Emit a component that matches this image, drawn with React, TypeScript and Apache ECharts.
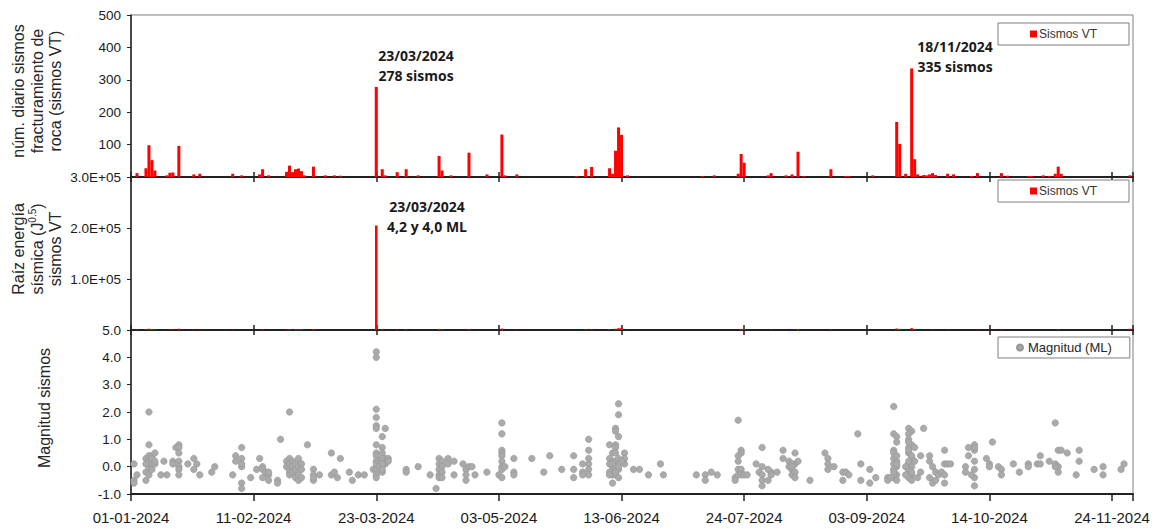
import React, { useEffect, useRef } from "react";
import * as echarts from "echarts";

// Day offsets counted from 01-01-2024
const START_UTC = Date.UTC(2024, 0, 1);
const X_MAX_DAY = 335;
const X_TICK_DAYS = 41;

// Panel 1: daily number of VT earthquakes [day, count]
const vtCounts: [number, number][] = [
  [2, 12], [5, 27], [6, 98], [7, 52], [8, 20], [12, 5], [13, 13], [14, 14], [16, 96],
  [21, 8], [23, 10], [34, 10], [37, 5], [43, 8], [44, 24], [46, 5], [52, 16], [53, 35],
  [54, 15], [55, 24], [56, 26], [57, 18], [58, 5], [61, 32], [65, 5], [68, 5], [70, 4],
  [82, 278], [84, 24], [85, 5], [89, 15], [92, 24], [96, 5], [103, 65], [104, 20], [107, 5],
  [113, 75], [119, 8], [124, 131], [125, 5], [129, 8], [149, 3], [152, 24], [154, 31],
  [160, 27], [161, 10], [162, 81], [163, 153], [164, 130], [166, 5], [191, 3], [195, 5],
  [203, 10], [204, 71], [205, 44], [213, 5], [214, 12], [219, 5], [221, 8], [223, 78],
  [225, 3], [234, 24], [239, 3], [240, 3], [248, 5], [256, 170], [257, 102], [259, 10],
  [261, 335], [262, 55], [263, 8], [265, 6], [266, 5], [267, 8], [268, 12], [269, 6],
  [273, 10], [275, 8], [281, 3], [283, 12], [291, 12], [293, 4], [300, 3], [301, 3],
  [305, 5], [307, 3], [309, 10], [310, 32], [311, 10], [334, 5],
];

// Panel 2: daily square root of seismic energy [day, J^0.5]
const vtEnergy: [number, number][] = [
  [2, 1200], [5, 1500], [6, 2500], [7, 1800], [8, 1100], [13, 900], [14, 1000], [16, 2600],
  [21, 700], [23, 900], [34, 800], [44, 1500], [52, 1000], [53, 2000], [55, 1400], [56, 1600],
  [57, 1200], [61, 1800], [82, 205000], [84, 1600], [89, 1000], [92, 1500], [103, 2200],
  [104, 1100], [113, 2000], [124, 2800], [129, 700], [152, 1300], [154, 1600], [160, 1500],
  [162, 2400], [163, 3600], [164, 4500], [204, 2200], [205, 1500], [214, 900], [223, 2000],
  [234, 1300], [256, 3000], [257, 2200], [261, 3800], [262, 1800], [268, 900], [273, 800],
  [283, 900], [291, 900], [310, 1500], [334, 2500],
];

// Panel 3: local magnitude of each event [day, ML]
const magnitudes: [number, number][] = [
  [1, 0.1], [1, -0.5], [1, -0.6], [2, -0.3], [5, -0.5], [5, 0.3], [5, -0.2], [6, 2.0], [6, 0.8],
  [6, 0.4], [6, 0.2], [6, 0.0], [6, -0.3], [5, 0.1], [7, 0.4], [7, 0.1], [7, -0.1], [7, 0.3],
  [8, 0.5], [8, 0.1], [8, 0.2], [10, -0.3], [11, 0.2], [12, -0.3], [14, 0.2], [14, 0.1],
  [15, 0.7], [16, 0.8], [16, 0.7], [16, 0.5], [16, 0.2], [16, 0.0], [16, -0.1], [16, -0.3],
  [19, 0.1], [21, 0.3], [21, -0.1], [22, 0.1], [23, -0.3], [27, -0.2], [28, 0.0],
  [34, -0.3], [35, 0.4], [35, 0.2], [37, 0.7], [37, 0.3], [37, 0.0], [37, 0.1], [37, -0.6],
  [37, -0.8], [40, -0.4], [42, -0.1], [43, 0.3], [44, 0.0], [44, -0.4], [44, -0.1], [45, -0.2],
  [46, -0.3], [46, -0.5], [46, -0.2], [49, -0.5], [49, -0.6], [50, 1.0],
  [52, 0.2], [52, 0.0], [53, -0.1], [53, 2.0], [53, 0.3], [53, 0.1], [53, -0.2], [53, -0.3],
  [54, 0.2], [54, 0.0], [54, -0.2], [55, 0.1], [55, -0.1], [55, -0.4], [56, 0.3], [56, 0.0],
  [56, -0.3], [56, -0.5], [57, 0.1], [57, -0.1], [57, -0.4], [59, 0.8], [61, -0.1], [61, -0.3],
  [61, -0.5], [61, -0.4], [63, -0.3], [67, 0.5], [67, -0.3], [68, -0.2], [69, -0.4], [70, 0.3],
  [73, -0.2], [74, -0.5], [76, -0.3], [78, -0.3],
  [81, -0.1], [82, 4.2], [82, 4.0], [82, 2.1], [82, 1.8], [82, 1.5], [82, 1.4], [82, 0.8],
  [82, 0.5], [82, 0.4], [82, 0.2], [82, 0.1], [82, -0.1], [82, -0.3], [82, -0.4], [83, 0.2],
  [83, 0.0], [84, 1.1], [84, 0.7], [84, 0.5], [84, 0.2], [84, -0.2], [85, 1.4], [85, 0.1],
  [85, 0.3], [84, 0.3], [84, 0.1], [84, -0.1], [86, 0.3], [86, 0.2],
  [92, -0.1], [92, -0.2], [96, 0.0], [100, -0.3], [102, -0.8], [103, 0.3], [103, 0.1],
  [103, -0.1], [103, -0.3], [103, -0.4], [104, 0.2], [104, 0.0], [104, -0.2], [104, -0.4],
  [106, 0.3], [106, 0.1], [108, 0.2], [108, -0.3], [111, 0.1], [112, -0.1], [112, -0.5],
  [112, -0.3], [113, 0.0], [114, 0.0], [115, -0.3], [119, -0.2],
  [124, 1.6], [124, 1.2], [124, 0.6], [124, 0.5], [124, 0.4], [124, 0.2], [124, 0.0],
  [124, -0.1], [123, -0.3], [124, -0.4], [125, 0.0], [128, 0.3], [128, -0.2], [128, -0.3],
  [134, 0.3], [138, -0.2], [140, 0.4], [144, -0.1], [148, 0.4], [148, -0.1], [148, -0.4],
  [151, 0.1], [151, -0.2], [151, -0.3], [153, 1.0], [153, 0.6], [153, 0.3], [153, 0.1],
  [153, -0.1], [153, -0.3],
  [163, 2.3], [163, 1.9], [162, 1.4], [162, 1.3], [163, 1.1], [160, 0.8], [162, 0.8],
  [162, 0.7], [161, 0.5], [162, 0.5], [160, 0.3], [161, 0.2], [162, 0.2], [163, 0.3],
  [160, 0.1], [161, 0.0], [162, -0.1], [160, -0.2], [161, -0.3], [162, -0.3], [161, -0.6],
  [163, -0.4], [165, 0.5], [165, 0.3], [165, 0.1], [163, -0.1], [160, -0.3], [161, 0.1],
  [162, 0.0], [163, 0.0], [162, -0.2], [164, 0.2],
  [168, -0.1], [170, -0.1], [173, -0.3], [177, 0.1], [178, -0.3], [189, -0.3], [192, -0.3],
  [192, -0.5], [194, -0.2], [196, -0.3],
  [203, 1.7], [204, 0.6], [204, 0.5], [203, 0.4], [203, 0.2], [203, -0.1], [204, -0.1],
  [202, -0.4], [203, -0.3], [204, -0.3], [202, -0.5], [205, -0.3], [206, -0.3],
  [209, 0.1], [211, 0.7], [210, -0.2], [211, 0.0], [211, -0.3], [211, -0.5], [211, -0.7],
  [213, -0.5], [214, -0.2], [213, -0.1], [214, -0.3],
  [216, -0.2], [218, 0.6], [218, 0.3], [220, 0.2], [220, 0.0], [221, -0.1], [221, -0.3],
  [222, 0.5], [222, 0.1], [222, -0.2], [222, -0.4], [223, 0.2], [221, 0.1], [221, 0.0],
  [227, -0.5], [232, 0.5], [233, 0.3], [233, 0.1], [233, -0.1], [235, 0.0], [238, -0.2],
  [238, -0.5], [239, -0.2], [240, -0.3], [243, 1.2], [244, 0.1], [244, -0.5], [247, -0.6],
  [247, -0.1], [249, -0.4],
  [255, 2.2], [255, 1.2], [256, 1.1], [256, 0.9], [255, 0.6], [255, 0.3], [256, 0.2],
  [255, 0.1], [256, 0.0], [255, -0.1], [256, -0.3], [255, -0.4], [256, -0.5], [253, -0.4],
  [253, -0.5], [254, -0.4], [255, 0.5], [256, 0.4], [255, -0.2], [256, 0.1],
  [260, 1.4], [261, 1.3], [260, 1.2], [260, 1.0], [261, 0.8], [260, 0.7], [262, 0.7],
  [260, 0.5], [261, 0.3], [260, 0.1], [261, 0.0], [260, -0.1], [261, -0.3], [260, -0.4],
  [261, -0.5], [259, 0.0], [259, -0.3], [262, 0.2], [263, -0.4], [264, 0.4], [264, -0.2],
  [265, 1.4], [260, 0.6], [261, 0.4], [260, 0.2], [261, -0.2], [260, 0.9],
  [267, 0.2], [267, 0.4], [267, -0.4], [268, 0.0], [268, -0.6], [269, -0.2], [269, -0.5],
  [270, -0.3], [271, -0.2], [272, 0.6], [272, 0.1], [272, -0.3], [272, -0.6], [273, 0.1],
  [274, 0.1], [279, 0.0], [279, -0.2], [280, 0.7], [280, 0.4], [282, 0.8], [282, 0.6],
  [282, 0.7], [282, 0.2], [282, -0.1], [282, -0.4], [282, -0.7], [281, -0.3],
  [286, 0.3], [287, 0.1], [287, 0.0], [288, 0.9], [290, 0.0], [291, -0.1], [291, -0.3],
  [295, 0.1], [297, -0.2], [300, 0.1], [300, 0.0], [303, 0.1], [304, 0.4], [304, 0.1],
  [307, 0.2], [309, 1.6], [310, 0.6], [311, 0.6], [309, 0.1], [310, 0.0], [310, -0.2],
  [309, 0.0], [313, 0.5], [316, -0.3], [317, 0.6], [317, 0.2], [322, -0.1], [325, 0.0],
  [325, -0.3], [331, -0.1], [332, 0.1],
];

const countAxis = { min: 0, max: 500, interval: 100 };
const energyAxis = { min: 0, max: 300000, interval: 100000 };
const magAxis = { min: -1, max: 5, interval: 1 };

const AXIS_FONT = "'Liberation Sans', Arial, sans-serif";
const NOTE_FONT = "'Open Sans', 'Noto Sans', sans-serif";

function dayLabel(v: number): string {
  if (Math.round(v) % X_TICK_DAYS !== 0) return "";
  const d = new Date(START_UTC + Math.round(v) * 86400000);
  const dd = String(d.getUTCDate()).padStart(2, "0");
  const mm = String(d.getUTCMonth() + 1).padStart(2, "0");
  return `${dd}-${mm}-${d.getUTCFullYear()}`;
}

export default function App() {
  const ref = useRef<HTMLDivElement>(null);

  useEffect(() => {
    document.body.style.margin = "0";
    if (!ref.current) return;
    const chart = echarts.init(ref.current, undefined, { renderer: "svg" });

    const gridBase = {
      left: 131,
      right: 22,
      show: true,
      borderColor: "#808080",
      borderWidth: 1,
      backgroundColor: "transparent",
    };

    const xBase = (gridIndex: number) => ({
      type: "value" as const,
      gridIndex,
      min: 0,
      max: X_MAX_DAY,
      interval: X_TICK_DAYS,
      splitLine: { show: false },
    });

    const xLine = { show: true, onZero: false, lineStyle: { color: "#222", width: 2 } };
    const noLine = { show: false, onZero: false };
    const tickStyle = { color: "#222", width: 1.5 };

    const yBase = (gridIndex: number) => ({
      type: "value" as const,
      gridIndex,
      splitLine: { show: false },
      axisLine: { show: true, onZero: false, lineStyle: { color: "#222", width: 1.5 } },
      axisTick: { show: true, length: 4, lineStyle: { color: "#222" } },
    });

    const yLabel = {
      fontSize: 13.5,
      color: "#1a1a1a",
      fontFamily: AXIS_FONT,
      margin: 10,
    };

    const legendBase = {
      orient: "horizontal" as const,
      left: 998,
      borderColor: "#7f7f7f",
      borderWidth: 1,
      backgroundColor: "#ffffff",
      selectedMode: false,
      itemGap: 0,
    };

    const nameStyle = {
      fill: "#262626",
      fontSize: 16,
      fontFamily: AXIS_FONT,
      textAlign: "center",
      textVerticalAlign: "middle",
      lineHeight: 18.5,
    };

    const noteStyle = {
      fill: "#1a1a1a",
      fontSize: 14,
      fontWeight: "bold",
      fontFamily: NOTE_FONT,
      textAlign: "center",
      textVerticalAlign: "top",
      lineHeight: 19.5,
    };

    chart.setOption({
      animation: false,
      backgroundColor: "#ffffff",
      grid: [
        { ...gridBase, top: 15, height: 162 },
        { ...gridBase, top: 177, height: 153 },
        { ...gridBase, top: 330, height: 164 },
      ],
      xAxis: [
        {
          ...xBase(0),
          position: "bottom",
          axisLine: xLine,
          axisTick: { show: true, inside: true, length: 5, lineStyle: tickStyle },
          axisLabel: { show: false },
        },
        {
          ...xBase(1),
          position: "bottom",
          axisLine: xLine,
          axisTick: { show: true, inside: true, length: 5, lineStyle: tickStyle },
          axisLabel: { show: false },
        },
        {
          ...xBase(1),
          position: "top",
          axisLine: noLine,
          axisTick: { show: true, inside: true, length: 5, lineStyle: tickStyle },
          axisLabel: { show: false },
        },
        {
          ...xBase(2),
          position: "bottom",
          axisLine: xLine,
          axisTick: { show: true, inside: false, length: 7, lineStyle: tickStyle },
          axisLabel: {
            show: true,
            fontSize: 15,
            color: "#1a1a1a",
            fontFamily: AXIS_FONT,
            margin: 16,
            formatter: (v: number) => dayLabel(v),
          },
        },
        {
          ...xBase(2),
          position: "top",
          axisLine: noLine,
          axisTick: { show: true, inside: true, length: 5, lineStyle: tickStyle },
          axisLabel: { show: false },
        },
      ],
      yAxis: [
        {
          ...yBase(0),
          ...countAxis,
          axisLabel: { ...yLabel, formatter: (v: number) => (v === 0 ? "" : String(v)) },
        },
        {
          ...yBase(1),
          ...energyAxis,
          axisLabel: {
            ...yLabel,
            formatter: (v: number) => (v === 0 ? "" : (v / 100000).toFixed(1) + "E+05"),
          },
        },
        {
          ...yBase(2),
          ...magAxis,
          axisLabel: { ...yLabel, formatter: (v: number) => v.toFixed(1) },
        },
      ],
      legend: [
        {
          ...legendBase,
          top: 23,
          data: ["Sismos VT"],
          icon: "rect",
          itemWidth: 7,
          itemHeight: 7,
          padding: [5, 32, 5, 32],
          textStyle: { fontSize: 12, color: "#333", fontFamily: AXIS_FONT, padding: [0, 0, 0, -3] },
        },
        {
          ...legendBase,
          top: 180,
          data: ["Sismos VT"],
          icon: "rect",
          itemWidth: 7,
          itemHeight: 7,
          padding: [5, 32, 5, 32],
          textStyle: { fontSize: 12, color: "#333", fontFamily: AXIS_FONT, padding: [0, 0, 0, -3] },
        },
        {
          ...legendBase,
          top: 337,
          data: ["Magnitud (ML)"],
          icon: "circle",
          itemWidth: 6,
          itemHeight: 6,
          padding: [4, 18, 4, 18],
          textStyle: { fontSize: 13, color: "#262626", fontFamily: AXIS_FONT },
        },
      ],
      series: [
        {
          name: "Sismos VT",
          type: "bar",
          xAxisIndex: 0,
          yAxisIndex: 0,
          barWidth: 3,
          itemStyle: { color: "#ff0000" },
          data: vtCounts,
        },
        {
          name: "Sismos VT",
          type: "bar",
          xAxisIndex: 1,
          yAxisIndex: 1,
          barWidth: 2.5,
          itemStyle: { color: "#ff0000" },
          data: vtEnergy,
        },
        {
          name: "Magnitud (ML)",
          type: "scatter",
          xAxisIndex: 3,
          yAxisIndex: 2,
          symbol: "circle",
          symbolSize: 6.5,
          itemStyle: { color: "#aaaaaa", borderColor: "#959595", borderWidth: 0.6, opacity: 1 },
          data: magnitudes,
          z: 3,
        },
      ],
      graphic: [
        {
          type: "text",
          x: 37,
          y: 91,
          rotation: Math.PI / 2,
          style: { ...nameStyle, text: "núm. diario sismos\nfracturamiento de\nroca (sismos VT)" },
        },
        {
          type: "text",
          x: 37,
          y: 249,
          rotation: Math.PI / 2,
          style: {
            ...nameStyle,
            text: "Raíz energía\nsísmica (J{sup|0.5})\nsismos VT",
            rich: {
              sup: {
                fontSize: 10,
                fontFamily: AXIS_FONT,
                fill: "#262626",
                verticalAlign: "top",
                lineHeight: 11,
              },
            },
          },
        },
        {
          type: "text",
          x: 44,
          y: 408,
          rotation: Math.PI / 2,
          style: { ...nameStyle, text: "Magnitud sismos" },
        },
        {
          type: "text",
          x: 416,
          y: 46,
          style: { ...noteStyle, text: "23/03/2024\n278 sismos" },
        },
        {
          type: "text",
          x: 955,
          y: 37,
          style: { ...noteStyle, text: "18/11/2024\n335 sismos" },
        },
        {
          type: "text",
          x: 427,
          y: 197,
          style: { ...noteStyle, text: "23/03/2024\n4,2 y 4,0 ML" },
        },
      ],
    });

    return () => chart.dispose();
  }, []);

  return <div ref={ref} style={{ width: 1155, height: 529 }} />;
}
